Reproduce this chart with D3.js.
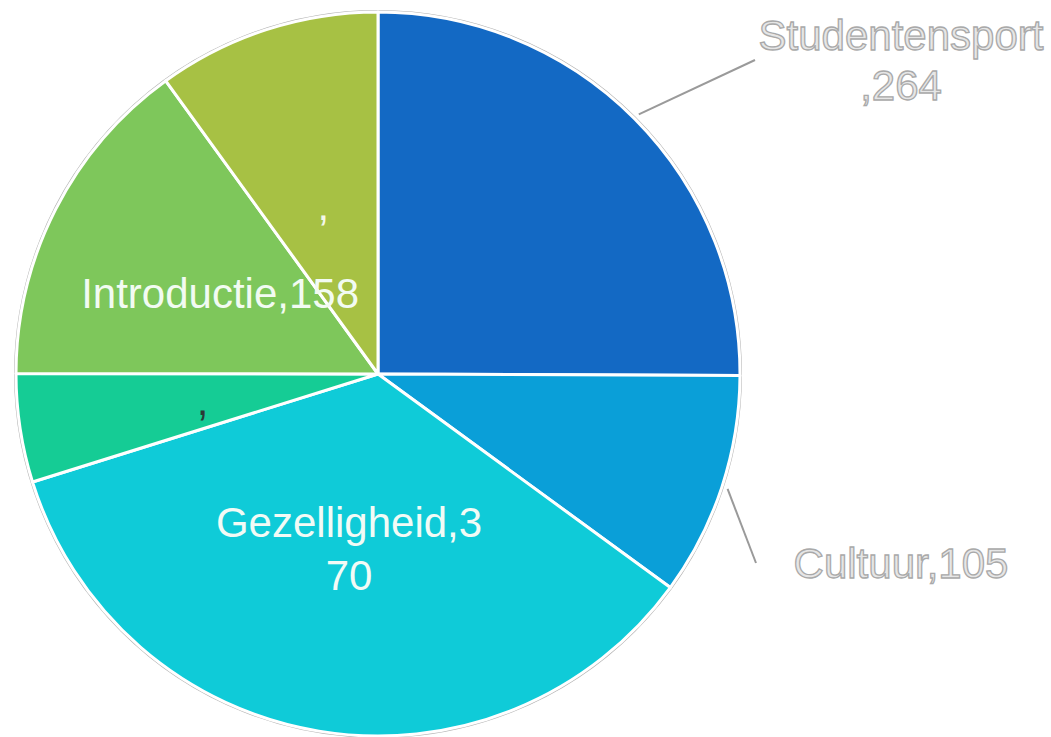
<!DOCTYPE html>
<html lang="nl">
<head>
<meta charset="utf-8">
<title>Pie</title>
<script src="https://d3js.org/d3.v7.min.js"></script>
<style>
  body { margin: 0; background: #fff; }
  svg { font-family: "Liberation Sans", Arial, sans-serif; }
  .outer-label { font-size: 42px; fill: #e6e6e6; stroke: #a9a9a9; stroke-width: 1.3px; }
  .inner-label { font-size: 42px; }
  .leader { stroke: #9a9a9a; stroke-width: 2px; fill: none; }
</style>
</head>
<body>
<div id="chart"></div>
<script>
// slices, clockwise from 12 o'clock
const categories = ["Studentensport", "Cultuur", "Gezelligheid", "", "Introductie", ""];
const values = [264, 105, 370, 51, 158, 105];
const colors = ["#1369c4", "#0a9fd8", "#0fcbd8", "#15cc95", "#7ec75b", "#a7c144"];
// label text as shown in the picture (line by line)
const labelLines = [
  ["Studentensport", ",264"],
  ["Cultuur,105"],
  ["Gezelligheid,3", "70"],
  [","],
  ["Introductie,158"],
  [","]
];
const outside = [true, true, false, false, false, false];
const labelColors = ["", "", "#f2fbf6", "#2b3b36", "#f2fbf2", "#f4f8ea"];

const W = 1051, H = 737;
const cx = 378, cy = 374, r = 362;
const fs = 42, lh = 53;

// where the outer labels sit (text centre x, first baseline, leader end)
const outerPos = {
  0: { x: 901, y: 50, lx: 755, ly: 60 },
  1: { x: 901, y: 578, lx: 756, ly: 563 }
};

const svg = d3.select("#chart").append("svg")
  .attr("width", W)
  .attr("height", H);

const g = svg.append("g").attr("transform", `translate(${cx},${cy})`);

const pie = d3.pie().sort(null).value(d => d);
const arcs = pie(values);

const arc = d3.arc().innerRadius(0).outerRadius(r);
const labelArc = d3.arc().innerRadius(r * 0.49).outerRadius(r * 0.49);
const edgeArc = d3.arc().innerRadius(r + 6).outerRadius(r + 6);

// gray rim round the pie
g.append("circle")
  .attr("r", r + 1)
  .attr("fill", "none")
  .attr("stroke", "#b4b4b4")
  .attr("stroke-width", 2);

g.selectAll("path.slice")
  .data(arcs)
  .join("path")
  .attr("class", "slice")
  .attr("d", arc)
  .attr("fill", (d, i) => colors[i])
  .attr("stroke", "#fff")
  .attr("stroke-width", 3)
  .attr("stroke-linejoin", "round");

// inner labels
arcs.forEach((d, i) => {
  if (outside[i]) return;
  const [x, y] = labelArc.centroid(d);
  const lines = labelLines[i];
  const y0 = y - (lines.length - 1) * lh / 2 + fs * 0.35;
  const t = g.append("text")
    .attr("class", "inner-label")
    .attr("text-anchor", "middle")
    .attr("fill", labelColors[i]);
  lines.forEach((s, k) => {
    t.append("tspan").attr("x", x).attr("y", y0 + k * lh).text(s);
  });
});

// outer labels with leader lines
arcs.forEach((d, i) => {
  if (!outside[i]) return;
  const p = outerPos[i];
  const [sx, sy] = edgeArc.centroid(d);
  svg.append("line")
    .attr("class", "leader")
    .attr("x1", cx + sx).attr("y1", cy + sy)
    .attr("x2", p.lx).attr("y2", p.ly);
  const t = svg.append("text")
    .attr("class", "outer-label")
    .attr("text-anchor", "middle");
  labelLines[i].forEach((s, k) => {
    t.append("tspan").attr("x", p.x).attr("y", p.y + k * 50).text(s);
  });
});
</script>
</body>
</html>
